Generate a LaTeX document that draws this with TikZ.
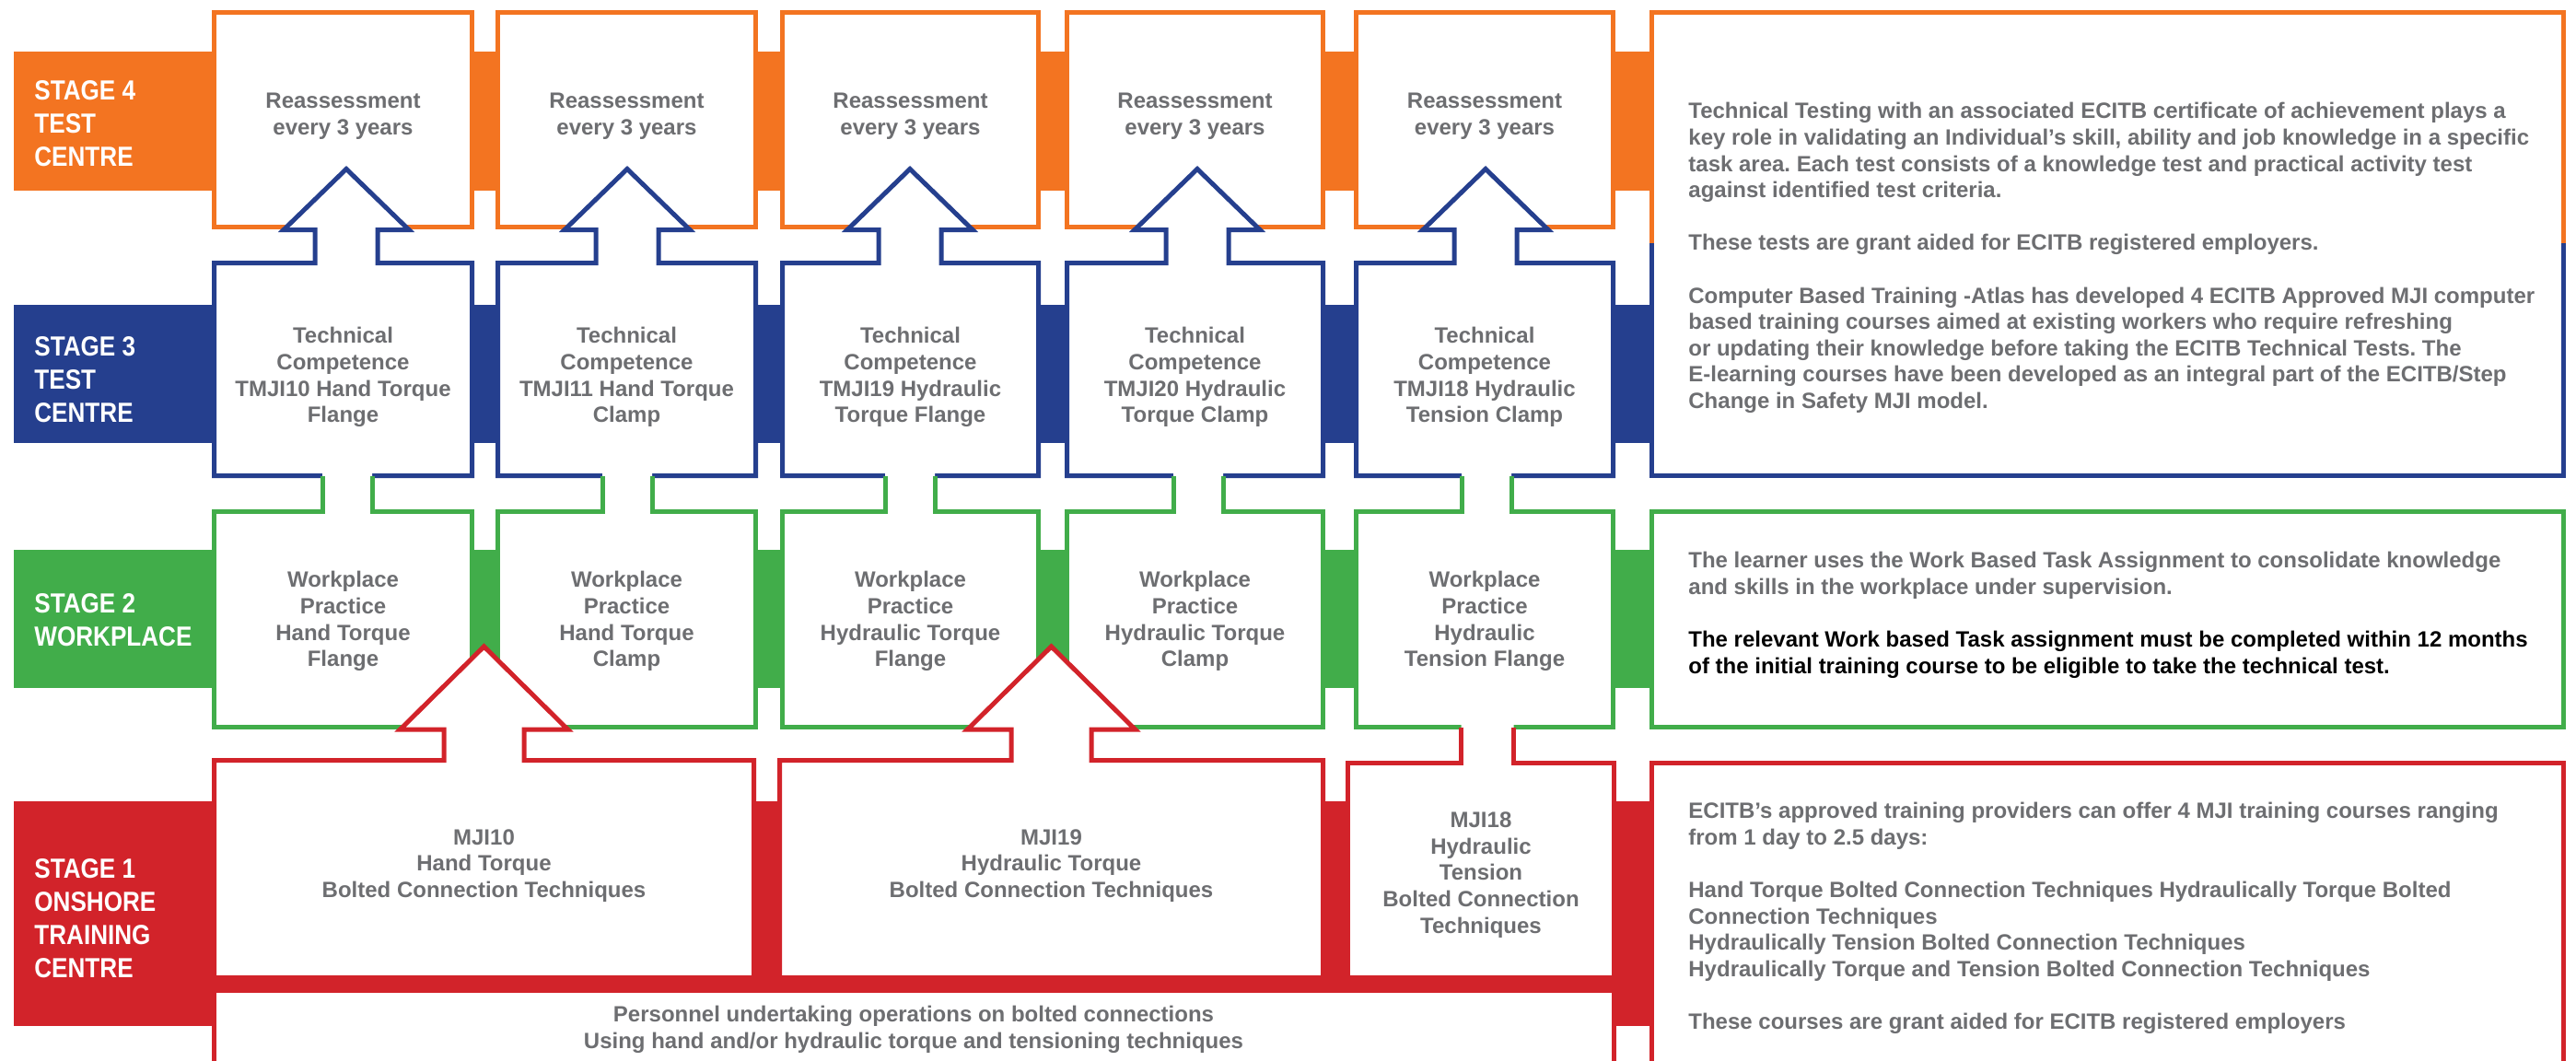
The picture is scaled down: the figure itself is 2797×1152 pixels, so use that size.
\documentclass[tikz,border=0pt]{standalone}
\usepackage{fontspec}
\setmainfont{Liberation Sans}
\newfontfamily\labelfont[FakeStretch=0.87]{Liberation Sans}
\frenchspacing
\definecolor{sorange}{HTML}{F37421}
\definecolor{sblue}{HTML}{253F8E}
\definecolor{sgreen}{HTML}{41AD4A}
\definecolor{sred}{HTML}{D2232A}
\definecolor{tgrey}{HTML}{6D6E71}
\tikzset{
  edgeline/.style={line width=2.5pt, line join=miter, miter limit=20},
  boxtext/.style={font=\frenchspacing\bfseries\fontsize{12}{14.4}\selectfont, text=tgrey, align=center, inner sep=0pt},
  desctext/.style={font=\frenchspacing\bfseries\fontsize{12}{14.3}\selectfont, text=tgrey, align=left, anchor=west, inner sep=0pt},
  stagelabel/.style={font=\labelfont\bfseries\fontsize{15}{18}\selectfont, text=white, align=left, anchor=west, inner sep=0pt},
}
\begin{document}
\begin{tikzpicture}[x=0.5pt,y=-0.5pt]
\useasboundingbox (0,0) rectangle (2797,1152);
\clip (0,0) rectangle (2797,1152);
\fill[white] (0,0) rectangle (2797,1152);
% bands
\fill[sorange] (15,56) rectangle (1795,207);
\fill[sblue] (15,331) rectangle (1795,481);
\fill[sgreen] (15,597) rectangle (1795,747);
\fill[sred] (15,870) rectangle (1795,1114);
% stage 4 boxes
\foreach \L/\R in {232.5/512.5, 540.5/820.5, 849.5/1127.5, 1158.5/1436.5, 1472.5/1751.5}{
  \draw[edgeline, sorange, fill=white] (\L,13.5) rectangle (\R,246.5);
}
% stage 3 boxes with arrows
\foreach \L/\R/\c in {232.5/512.5/376, 540.5/820.5/681, 849.5/1127.5/988, 1158.5/1436.5/1300, 1472.5/1751.5/1613}{
  \draw[edgeline, sblue, fill=white] (\L,285.5) -- (\c-34,285.5) -- (\c-34,249.5) -- (\c-68,249.5) -- (\c,183.5) -- (\c+68,249.5) -- (\c+34,249.5) -- (\c+34,285.5) -- (\R,285.5) -- (\R,516.5) -- (\L,516.5) -- cycle;
}
% stage 2 boxes with shafts
\foreach \L/\R/\c in {232.5/512.5/377, 540.5/820.5/681, 849.5/1127.5/988, 1158.5/1436.5/1301, 1472.5/1751.5/1614}{
  \fill[white] (\L,555) -- (\c-27,555) -- (\c-27,514) -- (\c+27,514) -- (\c+27,555) -- (\R,555) -- (\R,789.5) -- (\L,789.5) -- cycle;
  \draw[edgeline, sgreen] (\c-27,516.5) -- (\c-27,555) -- (\L,555) -- (\L,789.5) -- (\R,789.5) -- (\R,555) -- (\c+27,555) -- (\c+27,516.5);
}
% stage 1 boxes with arrows
\foreach \L/\R/\c in {232.5/818.5/525.5, 846.5/1436.5/1141.5}{
  \draw[edgeline, sred, fill=white] (\L,825.5) -- (\c-43.5,825.5) -- (\c-43.5,792) -- (\c-91,792) -- (\c,702) -- (\c+91,792) -- (\c+43.5,792) -- (\c+43.5,825.5) -- (\R,825.5) -- (\R,1061.5) -- (\L,1061.5) -- cycle;
}
\fill[white] (1463.5,828.5) -- (1586.5,828.5) -- (1586.5,787) -- (1643.5,787) -- (1643.5,828.5) -- (1752.5,828.5) -- (1752.5,1061.5) -- (1463.5,1061.5) -- cycle;
\draw[edgeline, sred] (1586.5,789.5) -- (1586.5,828.5) -- (1463.5,828.5) -- (1463.5,1061.5) -- (1752.5,1061.5) -- (1752.5,828.5) -- (1643.5,828.5) -- (1643.5,789.5);
% bottom box
\draw[edgeline, sred, fill=white] (232.5,1200) -- (232.5,1075.5) -- (1752.5,1075.5) -- (1752.5,1200);
% right boxes
\fill[white] (1793.5,13.5) rectangle (2783.5,516.5);
\draw[edgeline, sorange] (1793.5,264) -- (1793.5,13.5) -- (2783.5,13.5) -- (2783.5,264);
\draw[edgeline, sblue] (1793.5,264) -- (1793.5,516.5) -- (2783.5,516.5) -- (2783.5,264);
\draw[edgeline, sgreen, fill=white] (1793.5,555) rectangle (2783.5,789.5);
\draw[edgeline, sred, fill=white] (1793.5,1200) -- (1793.5,828.5) -- (2783.5,828.5) -- (2783.5,1200);
% stage labels
\node[stagelabel] (lab4) at (37,134) {STAGE 4\\TEST\\CENTRE};
\node[stagelabel] (lab3) at (37,412) {STAGE 3\\TEST\\CENTRE};
\node[stagelabel] (lab2) at (37,673.5) {STAGE 2\\WORKPLACE};
\node[stagelabel] (lab1) at (37,997) {STAGE 1\\ONSHORE\\TRAINING\\CENTRE};
% stage 4 texts
\node[boxtext] (r1) at (372.5,126) {Reassessment\\every 3 years};
\node[boxtext] (r2) at (680.5,126) {Reassessment\\every 3 years};
\node[boxtext] (r3) at (988.5,126) {Reassessment\\every 3 years};
\node[boxtext] (r4) at (1297.5,126) {Reassessment\\every 3 years};
\node[boxtext] (r5) at (1612,126) {Reassessment\\every 3 years};
% stage 3 texts
\node[boxtext] (t1) at (372.5,409.5) {Technical\\Competence\\TMJI10 Hand Torque\\Flange};
\node[boxtext] (t2) at (680.5,409.5) {Technical\\Competence\\TMJI11 Hand Torque\\Clamp};
\node[boxtext] (t3) at (988.5,409.5) {Technical\\Competence\\TMJI19 Hydraulic\\Torque Flange};
\node[boxtext] (t4) at (1297.5,409.5) {Technical\\Competence\\TMJI20 Hydraulic\\Torque Clamp};
\node[boxtext] (t5) at (1612,409.5) {Technical\\Competence\\TMJI18 Hydraulic\\Tension Clamp};
% stage 2 texts
\node[boxtext] (w1) at (372.5,674.5) {Workplace\\Practice\\Hand Torque\\Flange};
\node[boxtext] (w2) at (680.5,674.5) {Workplace\\Practice\\Hand Torque\\Clamp};
\node[boxtext] (w3) at (988.5,674.5) {Workplace\\Practice\\Hydraulic Torque\\Flange};
\node[boxtext] (w4) at (1297.5,674.5) {Workplace\\Practice\\Hydraulic Torque\\Clamp};
\node[boxtext] (w5) at (1612,674.5) {Workplace\\Practice\\Hydraulic\\Tension Flange};
% stage 1 texts
\node[boxtext] (m1) at (525.5,940) {MJI10\\Hand Torque\\Bolted Connection Techniques};
\node[boxtext] (m2) at (1141.5,940) {MJI19\\Hydraulic Torque\\Bolted Connection Techniques};
\node[boxtext] (m3) at (1608,950) {MJI18\\Hydraulic\\Tension\\Bolted Connection\\Techniques};
\node[boxtext] (pers) at (992,1118) {Personnel undertaking operations on bolted connections\\Using hand and/or hydraulic torque and tensioning techniques};
% right texts
\node[desctext] (d43) at (1833,280) {Technical Testing with an associated ECITB certificate of achievement plays a\\
key role in validating an Individual’s skill, ability and job knowledge in a specific\\
task area. Each test consists of a knowledge test and practical activity test\\
against identified test criteria.\\[14.3pt]
These tests are grant aided for ECITB registered employers.\\[14.3pt]
Computer Based Training -Atlas has developed 4 ECITB Approved MJI computer\\
based training courses aimed at existing workers who require refreshing\\
or updating their knowledge before taking the ECITB Technical Tests. The\\
E-learning courses have been developed as an integral part of the ECITB/Step\\
Change in Safety MJI model.};
\node[desctext] (d2) at (1833,668) {The learner uses the Work Based Task Assignment to consolidate knowledge\\
and skills in the workplace under supervision.\\[14.3pt]
\textcolor{black}{The relevant Work based Task assignment must be completed within 12 months}\\
\textcolor{black}{of the initial training course to be eligible to take the technical test.}};
\node[desctext] (d1) at (1833,997) {ECITB’s approved training providers can offer 4 MJI training courses ranging\\
from 1 day to 2.5 days:\\[14.3pt]
Hand Torque Bolted Connection Techniques Hydraulically Torque Bolted\\
Connection Techniques\\
Hydraulically Tension Bolted Connection Techniques\\
Hydraulically Torque and Tension Bolted Connection Techniques\\[14.3pt]
These courses are grant aided for ECITB registered employers};
\end{tikzpicture}
\end{document}
